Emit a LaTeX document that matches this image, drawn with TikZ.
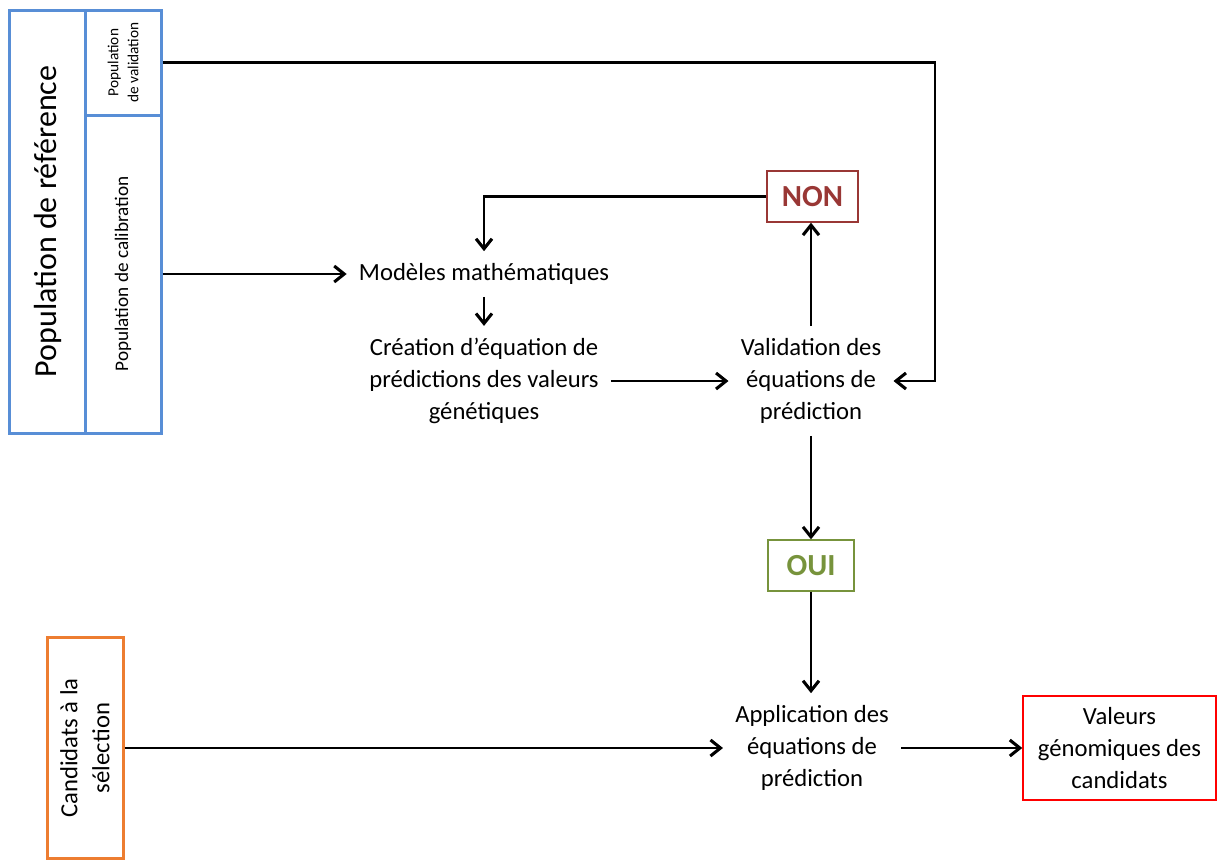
\documentclass[tikz,border=0pt]{standalone}
\usepackage{fontspec}
\setmainfont{Carlito}
\usetikzlibrary{arrows.meta}
\definecolor{bleu}{RGB}{88,142,214}
\definecolor{orange}{RGB}{237,125,49}
\definecolor{rougenon}{RGB}{153,55,53}
\definecolor{vertoui}{RGB}{119,147,60}
\begin{document}
\begin{tikzpicture}[x=0.75pt, y=-0.75pt,
    fleche/.style={-{Straight Barb[length=7.5pt,width=12pt,line width=2.3pt]}, line width=2.2pt},
    texte/.style={align=center, inner sep=9pt, font=\fontsize{18.5}{24}\selectfont},
    pop/.style={draw=bleu, line width=2.25pt, rotate=90, align=center, minimum height=57pt, inner sep=2pt},
    reponse/.style={draw=#1, line width=1pt, text=#1, minimum height=38.25pt, font=\fontsize{23}{28}\selectfont\bfseries}]
    \useasboundingbox (0, 0) rectangle (1218, 861);

    \node[pop, minimum width=317.25pt, font=\fontsize{24}{28}\selectfont] (ref) at (47.5, 221.5) {Population de référence};
    \node[pop, minimum width=78.75pt, font=\fontsize{11.5}{15}\selectfont] (valid) at (123, 62.5) {Population\\de validation};
    \node[pop, minimum width=238.5pt, font=\fontsize{14.4}{18}\selectfont] (calib) at (123, 274) {Population de calibration};

    \node[texte] (modeles) at (484, 274) {Modèles mathématiques};
    \node[texte] (creation) at (484, 381) {Création d’équation de\\prédictions des valeurs\\génétiques};
    \node[texte] (validation) at (811, 381) {Validation des\\équations de\\prédiction};
    \node[texte] (application) at (812, 748) {Application des\\équations de\\prédiction};

    \node[reponse=rougenon, minimum width=68.25pt] (non) at (812.5, 196.5) {NON};
    \node[reponse=vertoui, minimum width=64.5pt] (oui) at (811, 565.5) {OUI};

    \node[texte, draw=red, line width=1.1pt, minimum width=144.75pt, minimum height=78pt, inner sep=2pt] (valeurs) at (1119.5, 748) {Valeurs\\génomiques des\\candidats};
    \node[draw=orange, line width=2.25pt, rotate=90, align=center, minimum width=165.75pt, minimum height=57pt, inner sep=2pt, font=\fontsize{18.5}{24}\selectfont] (candidats) at (85, 748) {Candidats à la\\sélection};

    \coordinate (coin) at (935, 62.5);
    \draw[fleche] (valid.south) -- (coin) |- (validation.east);
    \draw[fleche] (calib.south) -- (modeles.west);
    \draw[fleche] (modeles.south) -- (creation.north);
    \draw[fleche] (creation.east) -- (validation.west);
    \draw[fleche] (validation.north) -- (validation.north |- non.south);
    \draw[fleche] (non.west) -| (modeles.north);
    \draw[fleche] (validation.south) -- (oui.north);
    \draw[fleche] (oui.south) -- (oui.south |- application.north);
    \draw[fleche] (candidats.south) -- (application.west);
    \draw[fleche] (application.east) -- (valeurs.west);
\end{tikzpicture}
\end{document}
